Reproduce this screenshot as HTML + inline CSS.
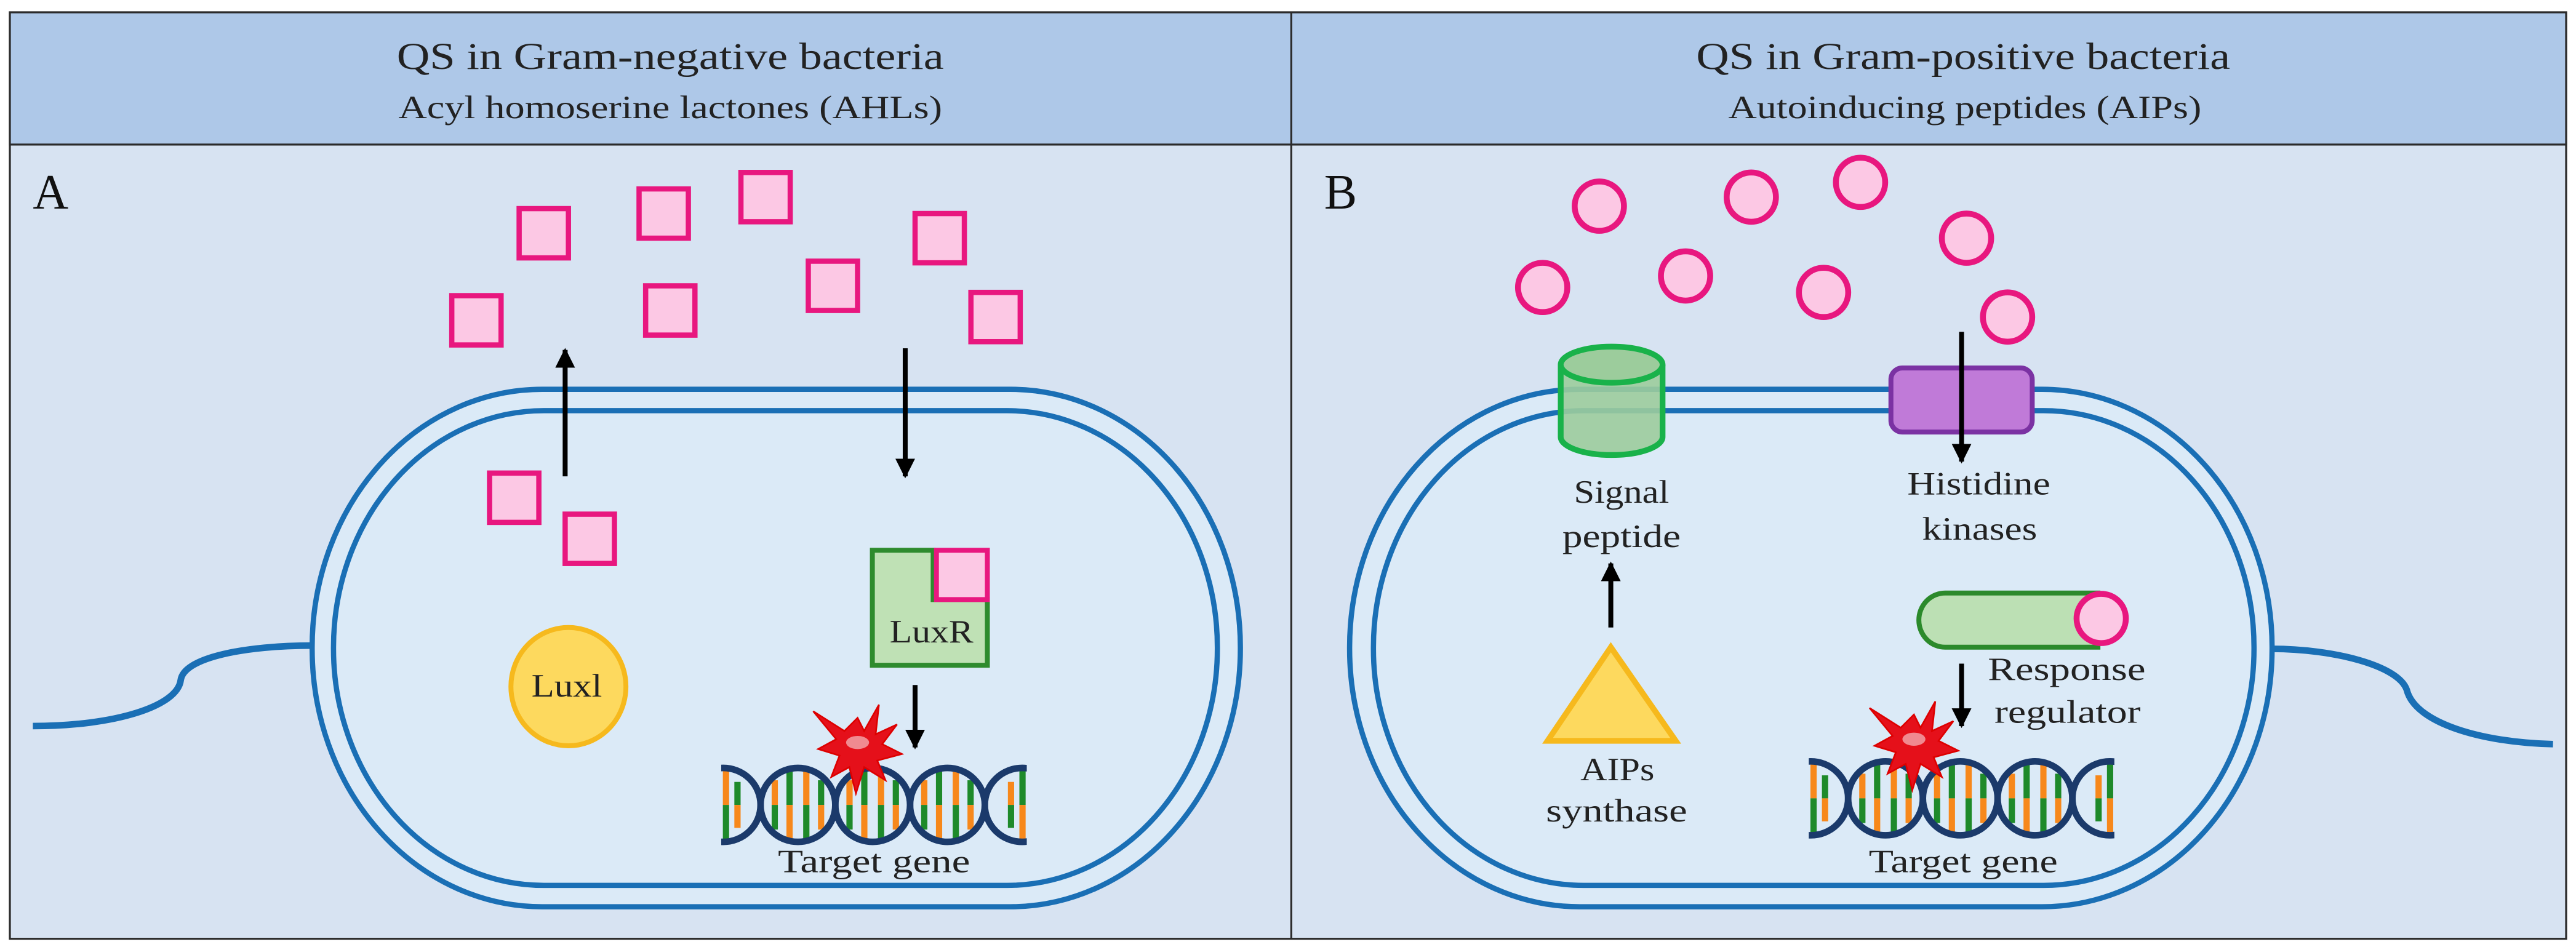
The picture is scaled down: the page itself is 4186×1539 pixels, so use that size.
<!DOCTYPE html>
<html><head><meta charset="utf-8"><style>html,body{margin:0;padding:0;background:#fff}svg{display:block}</style></head>
<body>
<svg width="4186" height="1539" viewBox="0 0 1568 576.5" preserveAspectRatio="none" xmlns="http://www.w3.org/2000/svg" font-family="'Liberation Serif', serif">
<defs>
<clipPath id="dc"><rect x="-1" y="-30" width="186" height="60"/></clipPath>
<g id="rung3">
 <rect x="-16" y="-15" width="3.8" height="15" fill="#f7881b"/><rect x="-16" y="0" width="3.8" height="15" fill="#1e8a2a"/>
 <rect x="-7" y="-21" width="3.8" height="21" fill="#1e8a2a"/><rect x="-7" y="0" width="3.8" height="21" fill="#f7881b"/>
 <rect x="3.2" y="-21" width="3.8" height="21" fill="#f7881b"/><rect x="3.2" y="0" width="3.8" height="21" fill="#1e8a2a"/>
 <rect x="12.2" y="-15" width="3.8" height="15" fill="#1e8a2a"/><rect x="12.2" y="0" width="3.8" height="15" fill="#f7881b"/>
</g>
<g id="dna">
 <g clip-path="url(#dc)">
  <rect x="0" y="-21" width="3.8" height="21" fill="#f7881b"/><rect x="0" y="0" width="3.8" height="21" fill="#1e8a2a"/>
  <rect x="7" y="-14" width="3.8" height="14" fill="#1e8a2a"/><rect x="7" y="0" width="3.8" height="14" fill="#f7881b"/>
  <use href="#rung3" x="45.7"/><use href="#rung3" x="91.2"/><use href="#rung3" x="136.7"/>
  <rect x="173.5" y="-14" width="3.8" height="14" fill="#f7881b"/><rect x="173.5" y="0" width="3.8" height="14" fill="#1e8a2a"/>
  <rect x="180.5" y="-21" width="3.8" height="21" fill="#1e8a2a"/><rect x="180.5" y="0" width="3.8" height="21" fill="#f7881b"/>
  <g fill="none" stroke="#1b3a6b" stroke-width="4">
   <ellipse cx="0.2" cy="0" rx="22.75" ry="22.5"/>
   <ellipse cx="45.7" cy="0" rx="22.75" ry="22.5"/>
   <ellipse cx="91.2" cy="0" rx="22.75" ry="22.5"/>
   <ellipse cx="136.7" cy="0" rx="22.75" ry="22.5"/>
   <ellipse cx="182.2" cy="0" rx="22.75" ry="22.5"/>
  </g>
 </g>
</g>
<g id="star">
 <polygon points="0,-18 4,-10 13,-26 11,-8 24,-14 15,-2 27,4 12,8 17,20 4,12 -1,28 -5,12 -16,18 -11,5 -24,1 -13,-5 -27,-22 -8,-10" fill="#e5101a" stroke="#d00" stroke-width="1"/>
 <ellipse cx="0" cy="-3" rx="7" ry="4" fill="#f08a90"/>
</g>
<g id="sq"><rect x="-15" y="-15" width="30" height="30" fill="#fcc8e4" stroke="#e8177f" stroke-width="3.2"/></g>
<g id="ci"><ellipse cx="0" cy="0" rx="15" ry="15" fill="#fcc8e4" stroke="#e8177f" stroke-width="3.6"/></g>
<marker id="ah" viewBox="0 0 10 10" refX="9" refY="5" markerWidth="4" markerHeight="4" orient="auto"><path d="M0,0 L10,5 L0,10 z" fill="#000"/></marker>
</defs>

<rect x="0" y="0" width="1568" height="576.5" fill="#fff"/>
<rect x="6" y="7.5" width="1556" height="564" fill="#d7e3f2" stroke="#2b2b2b" stroke-width="1.2"/>
<rect x="6" y="7.5" width="1556" height="80.5" fill="#aec8e8" stroke="#2b2b2b" stroke-width="1.2"/>
<line x1="786" y1="7.5" x2="786" y2="571.5" stroke="#2b2b2b" stroke-width="1.2"/>

<g fill="#222" text-anchor="middle">
<text x="408" y="42" font-size="23" textLength="333" lengthAdjust="spacingAndGlyphs">QS in Gram-negative  bacteria</text>
<text x="408" y="72" font-size="20" textLength="331" lengthAdjust="spacingAndGlyphs">Acyl homoserine  lactones (AHLs)</text>
<text x="1195" y="42" font-size="23" textLength="325" lengthAdjust="spacingAndGlyphs">QS in Gram-positive  bacteria</text>
<text x="1196" y="72" font-size="20" textLength="288" lengthAdjust="spacingAndGlyphs">Autoinducing peptides (AIPs)</text>
</g>
<text x="20" y="127" font-size="30" fill="#111">A</text>
<text x="806" y="127" font-size="30" fill="#111">B</text>

<path d="M190,393 C150,393 112,400 110,414 C108,430 70,442 20,442" fill="none" stroke="#1a6fb5" stroke-width="4"/>
<rect x="190" y="237" width="565" height="315" rx="140" ry="157" fill="#dbeaf7" stroke="#1a6fb5" stroke-width="3.2"/>
<rect x="203" y="250" width="538" height="289" rx="128" ry="144" fill="#dbeaf7" stroke="#1a6fb5" stroke-width="3.2"/>

<use href="#sq" x="331" y="142"/><use href="#sq" x="404" y="130"/><use href="#sq" x="466" y="120"/>
<use href="#sq" x="572" y="145"/><use href="#sq" x="507" y="174"/><use href="#sq" x="606" y="193"/>
<use href="#sq" x="290" y="195"/><use href="#sq" x="408" y="189"/>
<use href="#sq" x="313" y="303"/><use href="#sq" x="359" y="328"/>

<line x1="344" y1="290" x2="344" y2="213" stroke="#000" stroke-width="3" marker-end="url(#ah)"/>
<line x1="551" y1="212" x2="551" y2="290" stroke="#000" stroke-width="3" marker-end="url(#ah)"/>

<path d="M531,335 H568 V365 H601 V405 H531 Z" fill="#bfe1b5" stroke="#2e8b2e" stroke-width="3"/>
<rect x="570" y="335" width="31" height="30" fill="#fcc8e4" stroke="#e8177f" stroke-width="3"/>
<text x="567" y="391" font-size="20" text-anchor="middle" fill="#222" textLength="51" lengthAdjust="spacingAndGlyphs">LuxR</text>

<ellipse cx="346" cy="418" rx="35" ry="36" fill="#fdd95e" stroke="#f6b91d" stroke-width="3"/>
<text x="345" y="424" font-size="20" text-anchor="middle" fill="#222" textLength="43" lengthAdjust="spacingAndGlyphs">Luxl</text>

<line x1="557" y1="417" x2="557" y2="455" stroke="#000" stroke-width="3" marker-end="url(#ah)"/>
<use href="#dna" x="440" y="490"/>
<use href="#star" x="522" y="455"/>
<text x="532" y="531" font-size="20" text-anchor="middle" fill="#222" textLength="117" lengthAdjust="spacingAndGlyphs">Target gene</text>

<path d="M1383,395 C1420,395 1460,405 1465,420 C1470,440 1510,452 1554,453" fill="none" stroke="#1a6fb5" stroke-width="4"/>
<rect x="821.5" y="237" width="561.5" height="315" rx="140" ry="157" fill="#dbeaf7" stroke="#1a6fb5" stroke-width="3.2"/>
<rect x="836" y="250" width="536" height="289" rx="128" ry="144" fill="#dbeaf7" stroke="#1a6fb5" stroke-width="3.2"/>

<use href="#ci" x="973.5" y="125.5"/><use href="#ci" x="1066" y="120"/><use href="#ci" x="1132.5" y="111"/>
<use href="#ci" x="1197" y="145"/><use href="#ci" x="939" y="175"/><use href="#ci" x="1026" y="168"/>
<use href="#ci" x="1110" y="178"/><use href="#ci" x="1222" y="193"/>

<path d="M950,222 V266 A31,11 0 0 0 1012,266 V222" fill="#9ccc9c" fill-opacity="0.9" stroke="#19b24a" stroke-width="3.5"/>
<ellipse cx="981" cy="222" rx="31" ry="11" fill="#9ccc9c" stroke="#19b24a" stroke-width="3.5"/>
<rect x="1151" y="224" width="86" height="39" rx="7" fill="#c07ad8" stroke="#7b32a3" stroke-width="3"/>
<line x1="1194" y1="202" x2="1194" y2="281" stroke="#000" stroke-width="3" marker-end="url(#ah)"/>

<g fill="#222" text-anchor="middle" font-size="20">
<text x="987" y="306" textLength="58" lengthAdjust="spacingAndGlyphs">Signal</text>
<text x="987" y="333" textLength="72" lengthAdjust="spacingAndGlyphs">peptide</text>
<text x="1204.5" y="301" textLength="87" lengthAdjust="spacingAndGlyphs">Histidine</text>
<text x="1205" y="328.5" textLength="70" lengthAdjust="spacingAndGlyphs">kinases</text>
<text x="984.5" y="475" textLength="45" lengthAdjust="spacingAndGlyphs">AIPs</text>
<text x="984" y="500" textLength="86" lengthAdjust="spacingAndGlyphs">synthase</text>
<text x="1258" y="414" textLength="96" lengthAdjust="spacingAndGlyphs">Response</text>
<text x="1258.5" y="440" textLength="89" lengthAdjust="spacingAndGlyphs">regulator</text>
<text x="1195" y="531" textLength="115" lengthAdjust="spacingAndGlyphs">Target gene</text>
</g>

<line x1="980.5" y1="382" x2="980.5" y2="343" stroke="#000" stroke-width="3" marker-end="url(#ah)"/>
<polygon points="980.5,394 1020,451 942,451" fill="#fdd95e" stroke="#f6b91d" stroke-width="3.5"/>

<path d="M1277,361 H1184 A16,16.5 0 0 0 1184,394 H1277 Z" fill="#bce0b4" stroke="#2b8a2b" stroke-width="3"/>
<circle cx="1279" cy="376.5" r="15" fill="#fcc8e4" stroke="#e8177f" stroke-width="3.6"/>

<line x1="1194" y1="404" x2="1194" y2="442" stroke="#000" stroke-width="3" marker-end="url(#ah)"/>
<use href="#dna" x="1102" y="486"/>
<use href="#star" x="1165" y="453"/>
</svg>
</body></html>
